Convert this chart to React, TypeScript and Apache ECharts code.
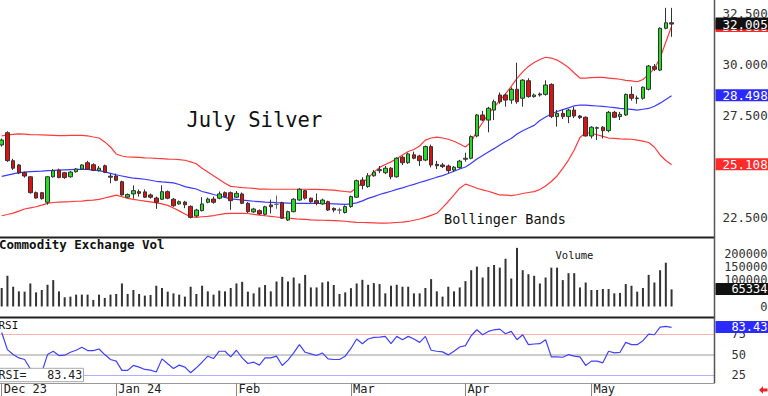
import { useEffect, useRef } from "react";
import * as echarts from "echarts";

const FONT = "'DejaVu Sans Mono', monospace";

// trading days per month
const decDays = [1, 4, 5, 6, 7, 8, 11, 12, 13, 14, 15, 18, 19, 20, 21, 22, 26, 27, 28, 29];
const janDays = [2, 3, 4, 5, 8, 9, 10, 11, 12, 16, 17, 18, 19, 22, 23, 24, 25, 26, 29, 30, 31];
const febDays = [1, 2, 5, 6, 7, 8, 9, 12, 13, 14, 15, 16, 20, 21, 22, 23, 26, 27, 28, 29];
const marDays = [1, 4, 5, 6, 7, 8, 11, 12, 13, 14, 15, 18, 19, 20, 21, 22, 25, 26, 27, 28];
const aprDays = [1, 2, 3, 4, 5, 8, 9, 10, 11, 12, 15, 16, 17, 18, 19, 22, 23, 24, 25, 26, 29, 30];
const mayDays = [1, 2, 3, 6, 7, 8, 9, 10, 13, 14, 15, 16, 17, 20, 21];
const monthKeys = ["2023-12", "2024-01", "2024-02", "2024-03", "2024-04", "2024-05"];
const monthLabels = ["Dec 23", "Jan 24", "Feb", "Mar", "Apr", "May"];
const emptySlots = 7;

// [open, close, low, high]
const candles = [
  [26.08, 26.32, 26.0, 26.4], [26.68, 25.31, 25.25, 26.75], [25.31, 24.94, 24.85, 25.4], [25.1, 24.71, 24.65, 25.15],
  [24.72, 24.56, 24.48, 24.78], [24.52, 23.74, 23.7, 24.55], [23.74, 23.48, 23.45, 23.8], [23.74, 23.45, 23.4, 23.78],
  [23.27, 24.52, 23.15, 24.55], [24.52, 24.82, 24.48, 24.9], [24.85, 24.48, 24.45, 24.92], [24.72, 24.48, 24.42, 24.76],
  [24.52, 24.75, 24.48, 24.8], [24.77, 24.9, 24.72, 24.95], [24.9, 25.1, 24.86, 25.14], [25.21, 24.89, 24.85, 25.3],
  [25.11, 24.84, 24.8, 25.18], [24.82, 24.94, 24.78, 25.05], [25.06, 24.74, 24.7, 25.12], [24.55, 24.5, 24.2, 24.68],
  [24.56, 24.35, 24.3, 24.68], [24.28, 23.63, 23.6, 24.33], [23.52, 23.65, 23.48, 23.7], [23.68, 23.84, 23.45, 24.1],
  [23.79, 23.71, 23.55, 23.9], [23.78, 23.52, 23.48, 23.9], [23.63, 23.52, 23.45, 23.7], [23.48, 23.27, 22.95, 23.55],
  [23.42, 23.79, 23.38, 24.1], [23.79, 23.47, 23.42, 23.85], [23.42, 23.1, 23.05, 23.48], [23.19, 23.3, 23.15, 23.36],
  [23.28, 23.15, 22.98, 23.34], [23.07, 22.53, 22.48, 23.12], [22.6, 22.89, 22.55, 22.95], [22.86, 23.19, 22.82, 23.52],
  [23.27, 23.43, 23.22, 23.5], [23.43, 23.27, 23.2, 23.55], [23.47, 23.68, 23.42, 23.8], [23.74, 23.55, 23.5, 23.8],
  [23.74, 23.35, 22.9, 23.8], [23.52, 23.71, 23.48, 23.82], [23.68, 23.22, 23.18, 23.75], [23.22, 22.81, 22.75, 23.28],
  [22.8, 22.94, 22.75, 23.0], [22.86, 22.7, 22.65, 22.92], [22.68, 23.05, 22.63, 23.1], [23.14, 23.05, 22.72, 23.4],
  [23.17, 23.17, 22.95, 23.6], [23.25, 22.49, 22.45, 23.3], [22.4, 22.81, 22.35, 22.86], [22.81, 23.42, 22.78, 23.47],
  [23.38, 23.91, 23.34, 23.96], [23.84, 23.47, 23.4, 23.88], [23.47, 23.3, 23.25, 23.5], [23.35, 23.22, 23.12, 23.7],
  [23.19, 23.38, 23.15, 23.45], [23.3, 22.89, 22.85, 23.35], [22.97, 22.89, 22.78, 23.02], [22.89, 22.89, 22.7, 23.0],
  [22.77, 23.06, 22.72, 23.12], [23.06, 23.55, 23.0, 23.6], [23.52, 24.33, 23.48, 24.38], [24.36, 24.1, 23.9, 24.5],
  [24.04, 24.57, 23.98, 24.7], [24.57, 24.75, 24.52, 24.85], [24.82, 24.87, 24.7, 25.05], [24.72, 24.94, 24.65, 25.05],
  [24.94, 24.52, 24.4, 25.0], [24.52, 25.43, 24.48, 25.48], [25.48, 25.21, 25.1, 25.55], [25.21, 25.64, 25.15, 25.7],
  [25.6, 25.43, 25.38, 25.75], [25.54, 25.31, 25.05, 25.6], [25.34, 26.0, 25.28, 26.05], [26.0, 25.1, 24.98, 26.1],
  [25.13, 25.06, 24.9, 25.3], [25.1, 25.02, 24.95, 25.2], [25.05, 24.82, 24.7, 25.12], [24.85, 24.99, 24.75, 25.05],
  [24.97, 25.29, 24.92, 25.35], [25.38, 25.43, 25.26, 25.7], [25.43, 26.49, 25.38, 26.55], [26.52, 27.55, 26.45, 27.6],
  [27.55, 27.3, 27.25, 27.75], [27.3, 27.88, 26.7, 27.95], [27.79, 28.2, 27.3, 28.3], [28.53, 28.2, 28.1, 28.65],
  [28.53, 28.28, 27.96, 28.61], [28.28, 28.81, 28.1, 28.9], [28.81, 28.2, 28.1, 30.11], [28.37, 29.26, 27.96, 29.3],
  [29.23, 28.45, 28.4, 29.35], [28.45, 28.53, 28.4, 28.6], [28.53, 28.58, 28.45, 28.65], [28.56, 29.02, 28.5, 29.25],
  [29.05, 27.47, 27.4, 29.1], [27.47, 27.63, 26.98, 27.8], [27.63, 27.47, 27.35, 27.8], [27.47, 27.79, 27.15, 27.85],
  [27.79, 27.5, 27.4, 27.95], [27.5, 27.42, 27.35, 27.55], [27.44, 26.52, 26.5, 27.48], [26.52, 26.95, 26.4, 27.0],
  [26.9, 26.93, 26.32, 26.98], [26.95, 26.78, 26.4, 27.0], [26.78, 27.68, 26.7, 27.75], [27.68, 27.44, 27.4, 27.75],
  [27.47, 27.58, 27.3, 27.7], [27.55, 28.56, 27.5, 28.6], [28.56, 28.37, 28.25, 28.95], [28.35, 28.38, 28.1, 28.5],
  [28.37, 28.91, 28.3, 28.95], [28.81, 29.95, 28.75, 30.0], [29.92, 29.79, 29.7, 30.05], [29.75, 31.8, 29.7, 31.85],
  [31.8, 32.07, 31.75, 32.8], [32.07, 32.005, 31.38, 32.8],
];

const upperBand = [
  26.53, 26.57, 26.6, 26.62, 26.61, 26.59, 26.58, 26.57, 26.56, 26.55, 26.54, 26.54, 26.55, 26.55, 26.55, 26.53,
  26.47, 26.42, 26.23, 25.98, 25.64, 25.54, 25.49, 25.48, 25.47, 25.45, 25.44, 25.42, 25.41, 25.39, 25.38, 25.36,
  25.33, 25.25, 25.16, 24.94, 24.75, 24.57, 24.39, 24.2, 24.05, 24.02, 23.99, 23.97, 23.95, 23.92, 23.92, 23.91,
  23.91, 23.91, 23.91, 23.91, 23.91, 23.91, 23.9, 23.9, 23.89, 23.88, 23.87, 23.83, 23.8, 23.77, 23.99, 24.22,
  24.46, 24.75, 24.98, 25.12, 25.25, 25.4, 25.59, 25.76, 25.86, 26.03, 26.32, 26.42, 26.46, 26.42, 26.36, 26.26,
  26.13, 25.98, 26.23, 26.76, 27.18, 27.6, 27.94, 28.26, 28.58, 28.95, 29.34, 29.66, 29.93, 30.12, 30.27, 30.38,
  30.34, 30.24, 30.07, 29.88, 29.61, 29.36, 29.36, 29.38, 29.39, 29.39, 29.36, 29.33, 29.3, 29.25, 29.22, 29.18,
  29.29, 29.53, 29.83, 30.34, 31.13, 31.888,
];

const middleBand = [
  24.54, 24.6, 24.66, 24.72, 24.75, 24.77, 24.79, 24.8, 24.82, 24.83, 24.85, 24.86, 24.87, 24.88, 24.89, 24.88,
  24.85, 24.82, 24.76, 24.69, 24.62, 24.56, 24.5, 24.45, 24.43, 24.4, 24.35, 24.3, 24.27, 24.25, 24.22, 24.14,
  24.04, 23.98, 23.92, 23.8, 23.73, 23.65, 23.58, 23.51, 23.44, 23.41, 23.38, 23.35, 23.32, 23.3, 23.28, 23.27,
  23.25, 23.24, 23.23, 23.22, 23.22, 23.22, 23.22, 23.22, 23.21, 23.2, 23.19, 23.18, 23.17, 23.19, 23.24, 23.34,
  23.46, 23.55, 23.65, 23.73, 23.81, 23.9, 23.98, 24.07, 24.15, 24.24, 24.32, 24.41, 24.5, 24.58, 24.68, 24.79,
  24.9, 25.0, 25.18, 25.39, 25.56, 25.74, 25.9, 26.08, 26.25, 26.4, 26.62, 26.78, 26.91, 27.04, 27.28, 27.45,
  27.6, 27.72, 27.81, 27.9, 28.0, 28.04, 28.03, 28.01, 27.99, 27.97, 27.94, 27.91, 27.87, 27.85, 27.82, 27.79,
  27.83, 27.87, 27.98, 28.13, 28.31, 28.498,
];

const lowerBand = [
  22.61, 22.67, 22.74, 22.84, 22.94, 23.0, 23.05, 23.13, 23.22, 23.26, 23.28, 23.29, 23.3, 23.32, 23.33, 23.36,
  23.38, 23.41, 23.48, 23.55, 23.62, 23.54, 23.46, 23.41, 23.37, 23.33, 23.29, 23.24, 23.19, 23.12, 22.99, 22.85,
  22.7, 22.56, 22.53, 22.56, 22.58, 22.62, 22.67, 22.71, 22.73, 22.73, 22.73, 22.72, 22.68, 22.64, 22.61, 22.58,
  22.55, 22.52, 22.5, 22.47, 22.44, 22.43, 22.41, 22.4, 22.39, 22.38, 22.37, 22.36, 22.34, 22.31, 22.29, 22.28,
  22.27, 22.26, 22.25, 22.25, 22.26, 22.28, 22.3, 22.33, 22.39, 22.45, 22.53, 22.63, 22.73, 23.01, 23.31, 23.63,
  23.96, 24.16, 24.07, 23.96, 23.88, 23.81, 23.72, 23.63, 23.62, 23.6, 23.64, 23.7, 23.75, 23.79, 23.9, 24.07,
  24.29, 24.56, 24.93, 25.34, 25.83, 26.45, 26.68, 26.65, 26.58, 26.5, 26.42, 26.4, 26.38, 26.37, 26.36, 26.32,
  26.27, 26.2, 25.98, 25.59, 25.32, 25.108,
];

const volume = [
  70600, 117000, 75500, 57800, 56600, 88000, 54000, 63000, 83000, 100800, 57800, 35100, 37700, 45300, 45300, 45300,
  25300, 45300, 32800, 45300, 47900, 88000, 47900, 63000, 47900, 41500, 44100, 79200, 70600, 56600, 50200, 45300,
  37700, 75500, 47900, 79200, 57800, 45300, 60400, 57800, 70600, 88000, 94300, 56600, 50200, 72800, 81900, 57800,
  95500, 113200, 95500, 110600, 88000, 120800, 72800, 72800, 91700, 95500, 81900, 47900, 54000, 70000, 88000, 101900,
  83000, 89400, 85700, 50200, 79200, 83000, 75500, 75500, 50200, 50200, 70600, 104500, 57800, 37700, 75500, 57800,
  72800, 96900, 138500, 152100, 110600, 150900, 158500, 148300, 182300, 106800, 223800, 138500, 123400, 117000, 88000, 110600,
  148300, 148300, 100800, 127200, 127200, 72800, 91700, 63000, 63000, 66800, 66800, 50200, 51700, 85700, 79200, 56600,
  70600, 120800, 91700, 138500, 167200, 65334,
];

const rsi = [
  77.2, 56.1, 50.0, 45.9, 43.9, 32.5, 27.0, 28.0, 50.0, 54.0, 48.8, 49.2, 52.8, 55.3, 58.9, 54.9,
  54.9, 56.9, 50.0, 43.9, 41.9, 30.5, 30.5, 36.6, 34.6, 31.7, 30.9, 28.5, 44.7, 38.6, 32.9, 37.0,
  34.6, 27.6, 33.7, 40.6, 48.0, 45.1, 54.1, 54.1, 47.2, 55.3, 45.9, 39.0, 40.6, 37.0, 45.9, 45.9,
  48.0, 36.6, 43.1, 52.0, 62.2, 52.8, 50.8, 48.8, 52.0, 44.7, 43.9, 43.9, 48.0, 57.5, 69.1, 63.4,
  69.1, 71.1, 71.5, 72.4, 63.4, 72.4, 68.3, 72.4, 69.1, 65.0, 72.4, 55.3, 54.1, 53.3, 49.6, 54.1,
  59.3, 61.0, 73.2, 80.5, 74.4, 78.5, 80.5, 81.3, 75.6, 78.5, 68.3, 74.4, 62.2, 63.0, 63.4, 68.3,
  47.2, 47.2, 46.7, 50.0, 48.0, 47.2, 36.6, 41.9, 41.9, 39.8, 54.1, 52.0, 52.8, 65.0, 62.2, 62.2,
  67.1, 75.2, 74.4, 83.7, 84.6, 83.43,
];

// visible axis labels (25.000 and 50000 are hidden behind the value tags in the reference)
const priceTicks = [22.5, 27.5, 30, 32.5];
const volumeTicks = [0, 100000, 150000, 200000];
const rsiTicks = [25, 50, 75];
const rsiLevels = [75, 50, 25];

const monthDays = [decDays, janDays, febDays, marDays, aprDays, mayDays];
const categories: string[] = [];
const monthStarts: number[] = [];
monthDays.forEach((days, m) => {
  monthStarts.push(categories.length);
  days.forEach((d) => categories.push(`${monthKeys[m]}-${String(d).padStart(2, "0")}`));
});
for (let k = 0; k < emptySlots; k++) categories.push(`pad-${k}`);

const near = (v: number, list: number[]) => list.some((t) => Math.abs(t - v) < 1e-6);
const fmt = (v: number, d: number) => (v + 1e-9).toFixed(d);

const LEFT = -1.16;
const RIGHT = 53.5;
const PLOT_R = 714.5;

export default function App() {
  const ref = useRef<HTMLDivElement>(null);
  useEffect(() => {
    const el = ref.current;
    if (!el) return;
    const chart = echarts.init(el, null, { renderer: "svg" });
    const hiddenX = (gi: number) => ({
      type: "category", gridIndex: gi, data: categories, boundaryGap: true, show: false,
    });
    const option: any = {
      animation: false,
      backgroundColor: "#ffffff",
      grid: [
        { left: LEFT, right: RIGHT, top: 0, height: 238.4, outerBoundsMode: "none" },
        { left: LEFT, right: RIGHT, top: 238, height: 68.5, outerBoundsMode: "none" },
        { left: LEFT, right: RIGHT, top: 318, height: 65, outerBoundsMode: "none" },
      ],
      xAxis: [
        hiddenX(0),
        hiddenX(1),
        {
          type: "category", gridIndex: 2, data: categories, boundaryGap: true,
          axisLine: { show: true, lineStyle: { color: "#999", width: 1 } },
          axisTick: {
            show: true, alignWithLabel: true, length: 13,
            interval: (i: number) => monthStarts.includes(i),
            lineStyle: { color: "#888", width: 1 },
          },
          axisLabel: {
            interval: (i: number) => monthStarts.includes(i),
            formatter: (_v: string, i: number) => {
              const k = monthStarts.indexOf(i);
              return k >= 0 ? monthLabels[k] : "";
            },
            align: "left", margin: 0, padding: [0, 0, 0, 2],
            fontFamily: FONT, fontSize: 12, color: "#222",
          },
          splitLine: { show: false },
        },
      ],
      yAxis: [
        {
          type: "value", gridIndex: 0, position: "right", min: 21.5, max: 33.186, interval: 0.5,
          axisLine: { show: false }, axisTick: { show: false }, splitLine: { show: false },
          axisLabel: {
            formatter: (v: number) => (near(v, priceTicks) ? v.toFixed(3) : ""),
            margin: 8, align: "left", fontFamily: FONT, fontSize: 12.5, color: "#333",
          },
        },
        {
          type: "value", gridIndex: 1, position: "right", min: 0, max: 261450, interval: 50000,
          axisLine: { show: false }, axisTick: { show: false }, splitLine: { show: false },
          axisLabel: {
            formatter: (v: number) => (near(v, volumeTicks) ? String(v) : ""),
            margin: 53, align: "right", fontFamily: FONT, fontSize: 12, color: "#333",
          },
        },
        {
          type: "value", gridIndex: 2, position: "right", min: 15, max: 95, interval: 5,
          axisLine: { show: false }, axisTick: { show: false }, splitLine: { show: false },
          axisLabel: {
            formatter: (v: number) => (near(v, rsiTicks) ? String(v) : ""),
            margin: 17, align: "left", fontFamily: FONT, fontSize: 12, color: "#333",
          },
        },
      ],
      series: [
        {
          type: "candlestick", xAxisIndex: 0, yAxisIndex: 0, data: candles, barWidth: 4, z: 4,
          itemStyle: {
            color: "#22dd22", color0: "#dd1111", borderColor: "#333", borderColor0: "#333",
            borderColorDoji: "#666", borderWidth: 1,
          },
        },
        {
          type: "line", xAxisIndex: 0, yAxisIndex: 0, data: upperBand, symbol: "none", z: 3,
          lineStyle: { color: "#ff3a3a", width: 1.2 },
        },
        {
          type: "line", xAxisIndex: 0, yAxisIndex: 0, data: middleBand, symbol: "none", z: 3,
          lineStyle: { color: "#3a3aff", width: 1.2 },
        },
        {
          type: "line", xAxisIndex: 0, yAxisIndex: 0, data: lowerBand, symbol: "none", z: 3,
          lineStyle: { color: "#ff3a3a", width: 1.2 },
        },
        {
          type: "bar", xAxisIndex: 1, yAxisIndex: 1, data: volume, barWidth: 2,
          itemStyle: { color: "#333" },
        },
        {
          type: "line", xAxisIndex: 2, yAxisIndex: 2, data: rsi, symbol: "none", z: 3,
          lineStyle: { color: "#4040ff", width: 1.2 },
          markLine: {
            silent: true, symbol: "none", label: { show: false }, z: 1,
            data: [
              { yAxis: rsiLevels[0], lineStyle: { color: "#ffb0b0", width: 1, type: "solid" } },
              { yAxis: rsiLevels[1], lineStyle: { color: "#cccccc", width: 2, type: "solid" } },
              { yAxis: rsiLevels[2], lineStyle: { color: "#b0b0ff", width: 1, type: "solid" } },
            ],
          },
        },
      ],
    };
    chart.setOption(option);

    const last = candles.length - 1;
    const tags = [
      { axis: 0, value: upperBand[last], text: fmt(upperBand[last], 3), bg: "#ff2a2a", align: "left" },
      { axis: 0, value: candles[last][1], text: fmt(candles[last][1], 3), bg: "#111111", align: "left" },
      { axis: 0, value: middleBand[last], text: fmt(middleBand[last], 3), bg: "#2a2aff", align: "left" },
      { axis: 0, value: lowerBand[last], text: fmt(lowerBand[last], 3), bg: "#ff2a2a", align: "left" },
      { axis: 1, value: volume[last], text: String(volume[last]), bg: "#111111", align: "right" },
      { axis: 2, value: rsi[last], text: fmt(rsi[last], 2), bg: "#2a2aff", align: "right" },
    ];
    const graphic: any[] = [];
    tags.forEach((t, k) => {
      const y = chart.convertToPixel({ yAxisIndex: t.axis } as any, t.value) as unknown as number;
      graphic.push({
        type: "rect", shape: { x: 715.5, y: y - 6.5, width: 53, height: 12 },
        style: { fill: t.bg }, z: 100 + k * 2,
      });
      graphic.push({
        type: "text", x: t.align === "left" ? 722.5 : 767.5, y,
        style: {
          text: t.text, fill: "#ffffff", fontFamily: FONT, fontSize: t.axis === 0 ? 12.5 : 12,
          align: t.align, verticalAlign: "middle",
        },
        z: 101 + k * 2,
      });
    });
    const txt = (text: string, x: number, y: number, size: number, weight = "normal", fill = "#111") => ({
      type: "text", x, y, z: 90,
      style: { text, fill, fontFamily: FONT, fontSize: size, fontWeight: weight, align: "left", verticalAlign: "middle" },
    });
    graphic.push(
      { type: "line", shape: { x1: 0, y1: 237.5, x2: PLOT_R, y2: 237.5 }, style: { stroke: "#222", lineWidth: 2 }, z: 80 },
      { type: "line", shape: { x1: 0, y1: 317.5, x2: PLOT_R, y2: 317.5 }, style: { stroke: "#222", lineWidth: 2 }, z: 80 },
      { type: "line", shape: { x1: PLOT_R, y1: 0, x2: PLOT_R, y2: 383 }, style: { stroke: "#555", lineWidth: 1.5 }, z: 80 },
      txt("July Silver", 186.5, 119.5, 20.5),
      txt("Bollinger Bands", 444, 219.2, 13.5),
      txt("Commodity Exchange Vol", -1, 244.5, 12.5, "bold"),
      txt("Volume", 555.5, 255.2, 10.5),
      txt("RSI", -1.5, 325.5, 11),
      { type: "rect", shape: { x: -1, y: 368.3, width: 84.5, height: 13.4 }, style: { fill: "#fff", stroke: "#aaa", lineWidth: 1 }, z: 90 },
      txt("RSI=   " + fmt(rsi[last], 2), -1.5, 375, 11.6, "normal", "#222"),
      {
        type: "polygon", z: 90,
        shape: { points: [[759, 390], [763, 386.3], [763, 388.5], [767.5, 388.5], [767.5, 391.5], [763, 391.5], [763, 393.7]] },
        style: { fill: "#ee2222" },
      }
    );
    graphic[graphic.length - 2].z = 91;
    chart.setOption({ graphic });
    return () => chart.dispose();
  }, []);
  return <div ref={ref} style={{ position: "fixed", left: 0, top: 0, width: 768, height: 396 }} />;
}
